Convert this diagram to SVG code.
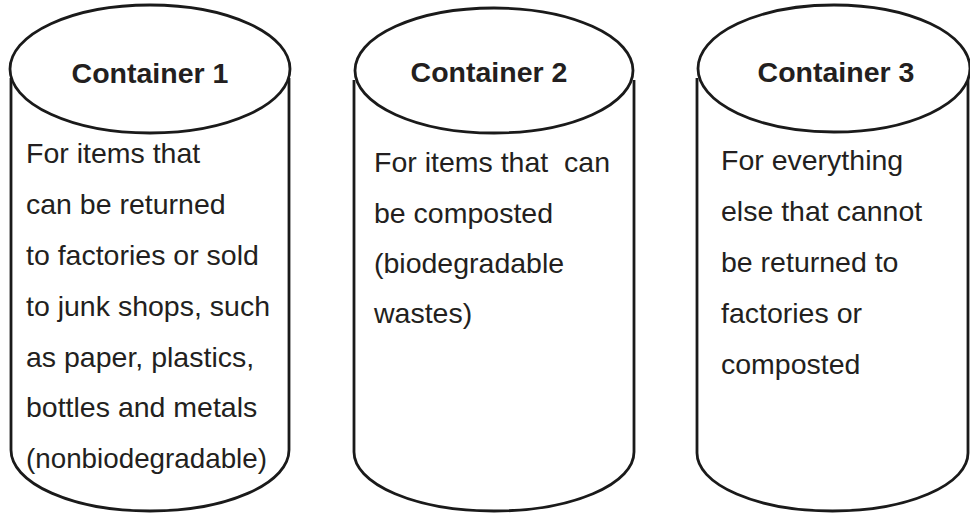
<svg xmlns="http://www.w3.org/2000/svg" width="970" height="513" viewBox="0 0 970 513">
<style>
.shape{fill:#fff;stroke:#1a1a1a;stroke-width:2.8}
.title{font-family:"Liberation Sans",Arial,sans-serif;font-weight:bold;font-size:28.5px;fill:#231f20;text-anchor:middle}
.body{font-family:"Liberation Sans",Arial,sans-serif;font-size:28.5px;fill:#231f20}
</style>
<rect width="970" height="513" fill="#fff"/>
<g id="container1">
<path class="shape" d="M11 78 L11 450 A139 61 0 0 0 289 450 L289 78"/>
<ellipse class="shape" cx="150" cy="69" rx="140" ry="64"/>
<text class="title" x="150" y="83">Container 1</text>
<text class="body">
<tspan x="26" y="163">For items that</tspan>
<tspan x="26" y="214">can be returned</tspan>
<tspan x="26" y="265">to factories or sold</tspan>
<tspan x="26" y="316">to junk shops, such</tspan>
<tspan x="26" y="367">as paper, plastics,</tspan>
<tspan x="26" y="417">bottles and metals</tspan>
</text>
<text class="body" x="26" y="468" textLength="241" lengthAdjust="spacingAndGlyphs">(nonbiodegradable)</text>
</g>
<g id="container2">
<path class="shape" d="M354 80 L354 452 A140 59 0 0 0 634 452 L634 80"/>
<ellipse class="shape" cx="494" cy="70.5" rx="139" ry="62.5"/>
<text class="title" x="489" y="82">Container 2</text>
<text class="body" xml:space="preserve">
<tspan x="374" y="172">For items that  can</tspan>
<tspan x="374" y="223">be composted</tspan>
<tspan x="374" y="273">(biodegradable</tspan>
<tspan x="374" y="323">wastes)</tspan>
</text>
</g>
<g id="container3">
<path class="shape" d="M697 78 L697 453 A135.5 58 0 0 0 968 453 L968 78"/>
<ellipse class="shape" cx="834" cy="68.5" rx="136" ry="63.5"/>
<text class="title" x="836" y="82">Container 3</text>
<text class="body">
<tspan x="721" y="170">For everything</tspan>
<tspan x="721" y="221">else that cannot</tspan>
<tspan x="721" y="272">be returned to</tspan>
<tspan x="721" y="323">factories or</tspan>
<tspan x="721" y="374">composted</tspan>
</text>
</g>
<g id="connectors"></g>
</svg>
